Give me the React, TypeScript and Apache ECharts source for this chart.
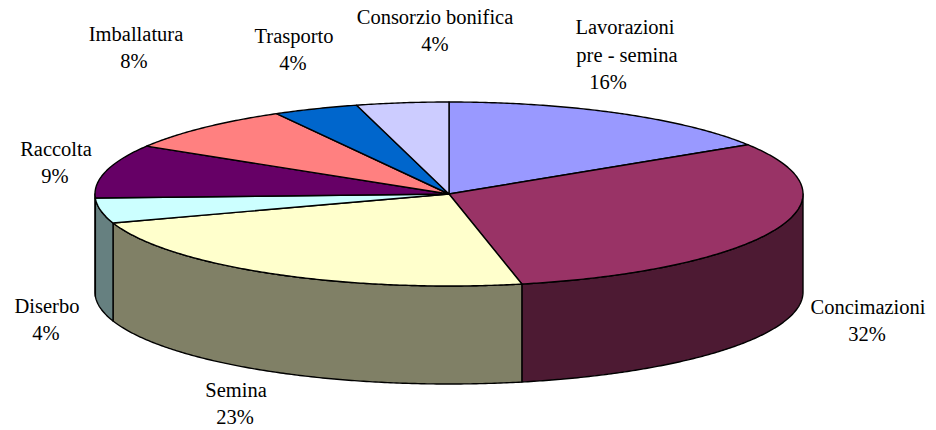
import React, { useEffect, useRef } from "react";
import * as echarts from "echarts";

const categories = ["Lavorazioni pre - semina", "Concimazioni", "Semina", "Diserbo", "Raccolta", "Imballatura", "Trasporto", "Consorzio bonifica"];
const values = [16, 30.7, 23.2, 4.4, 9.4, 8.2, 3.9, 4.2];
const percentLabels = ["16%", "32%", "23%", "4%", "9%", "8%", "4%", "4%"];
const topColors = ["#9999FF", "#993366", "#FFFFCC", "#CCFFFF", "#660066", "#FF8080", "#0066CC", "#CCCCFF"];
const sideColors = ["#4D4D80", "#4D1A33", "#808066", "#668080", "#330033", "#804040", "#003366", "#666680"];

// Label layout: one [centre x, centre y] per printed line
const labelLines: { text: string; x: number; y: number }[][] = [
  [{ text: "Lavorazioni", x: 625, y: 27 }, { text: "pre - semina", x: 627, y: 55 }, { text: percentLabels[0], x: 608, y: 82 }],
  [{ text: "Concimazioni", x: 868, y: 307 }, { text: percentLabels[1], x: 867, y: 334 }],
  [{ text: "Semina", x: 236, y: 390 }, { text: percentLabels[2], x: 235, y: 417 }],
  [{ text: "Diserbo", x: 47, y: 306 }, { text: percentLabels[3], x: 46, y: 333 }],
  [{ text: "Raccolta", x: 56, y: 149 }, { text: percentLabels[4], x: 55, y: 176 }],
  [{ text: "Imballatura", x: 136, y: 34 }, { text: percentLabels[5], x: 134, y: 61 }],
  [{ text: "Trasporto", x: 294, y: 36 }, { text: percentLabels[6], x: 293, y: 63 }],
  [{ text: "Consorzio bonifica", x: 435, y: 17 }, { text: percentLabels[7], x: 435, y: 44 }],
];

const CX = 449;
const CY = 194;
const RX = 354;
const RY = 92;
const DEPTH = 98;
const LINE = 1.4;

const total = values.reduce((a, b) => a + b, 0);
let running = 0;
const angleRows = values.map((v, i) => {
  const start = (running / total) * 360;
  running += v;
  return [start, (running / total) * 360, i];
});

function pt(deg: number, dy = 0): number[] {
  const r = (deg * Math.PI) / 180;
  return [CX + Math.sin(r) * RX, CY - Math.cos(r) * RY + dy];
}
function arc(a: number, b: number, dy = 0): number[][] {
  const n = Math.max(2, Math.ceil((b - a) / 0.5));
  const out: number[][] = [];
  for (let i = 0; i <= n; i++) out.push(pt(a + ((b - a) * i) / n, dy));
  return out;
}

export default function App() {
  const ref = useRef<HTMLDivElement>(null);
  useEffect(() => {
    const chart = echarts.init(ref.current!, undefined, { renderer: "svg" });
    const stroke = { stroke: "#000", lineWidth: LINE, lineJoin: "round" };
    chart.setOption({
      animation: false,
      backgroundColor: "#fff",
      series: [
        {
          type: "custom",
          name: "sides",
          coordinateSystem: "none",
          silent: true,
          z: 2,
          data: angleRows,
          renderItem: (_p: any, api: any) => {
            const a = Math.max(api.value(0), 90);
            const b = Math.min(api.value(1), 270);
            if (b <= a) return { type: "group", children: [] };
            const points = [...arc(a, b), ...arc(a, b, DEPTH).reverse()];
            return {
              type: "polygon",
              shape: { points },
              style: { fill: sideColors[api.value(2)], ...stroke },
            };
          },
        },
        {
          type: "custom",
          name: "tops",
          coordinateSystem: "none",
          silent: true,
          z: 3,
          data: angleRows,
          renderItem: (_p: any, api: any) => ({
            type: "polygon",
            shape: { points: [[CX, CY], ...arc(api.value(0), api.value(1))] },
            style: { fill: topColors[api.value(2)], ...stroke },
          }),
        },
      ],
      graphic: labelLines.flat().map((l) => ({
        type: "text",
        x: l.x,
        y: l.y,
        silent: true,
        style: {
          text: l.text,
          fill: "#000",
          font: '20.5px "Liberation Serif", serif',
          textAlign: "center",
          textVerticalAlign: "middle",
        },
      })),
    });
    return () => chart.dispose();
  }, []);
  return <div ref={ref} data-cats={categories.length} style={{ position: "absolute", left: 0, top: 0, width: 936, height: 430 }} />;
}
